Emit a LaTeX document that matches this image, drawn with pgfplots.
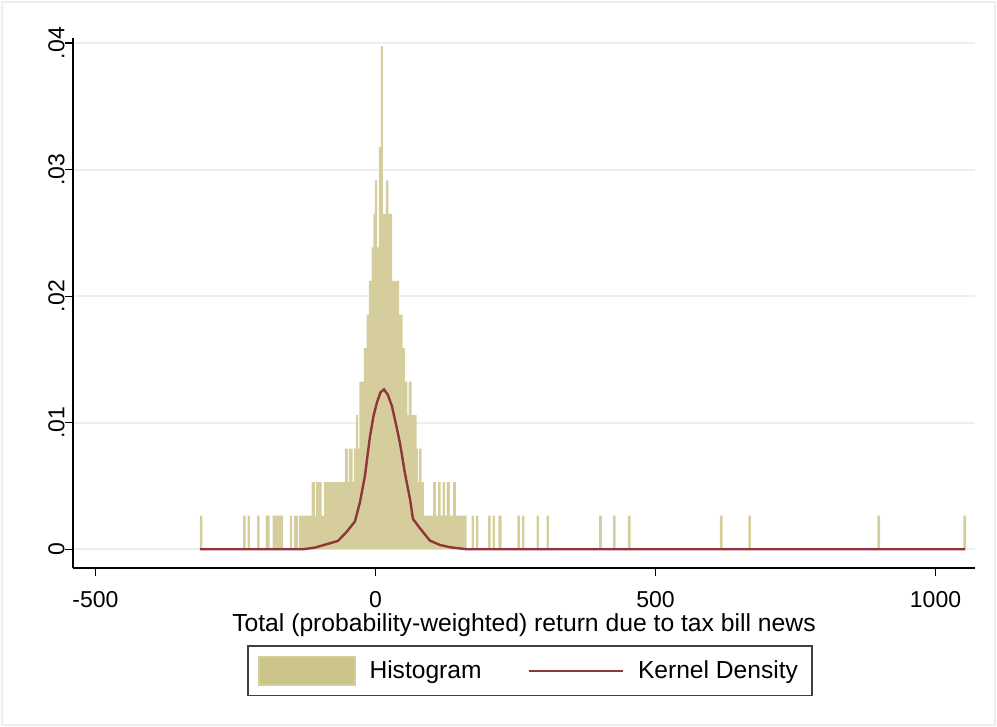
\documentclass[border=0pt]{standalone}
\usepackage{fontspec}
\setmainfont{Liberation Sans}
\usepackage{pgfplots}
\pgfplotsset{compat=1.18}
\definecolor{histfill}{RGB}{213,206,156}
\definecolor{histkey}{RGB}{203,196,136}
\definecolor{kdens}{RGB}{144,53,59}
\definecolor{gridc}{RGB}{232,240,242}
\begin{document}
\begin{tikzpicture}
\begin{axis}[
  name=ax, at={(0pt,0pt)}, anchor=south west,
  width=451pt, height=265pt, scale only axis,
  xmin=-540, xmax=1070.5, ymin=-0.00148, ymax=0.0404,
  scaled y ticks=false, scaled x ticks=false,
  axis x line*=bottom, axis y line*=left,
  axis line style={-, black, line width=0.6pt},
  tick align=outside, major tick length=4pt,
  tick style={black, line width=0.6pt},
  xtick={-500,0,500,1000}, xticklabels={-500,0,500,1000},
  ytick={0,0.01,0.02,0.03,0.04}, yticklabels={0,.01,.02,.03,.04},
  minor tick num=0,
  ymajorgrids, grid style={gridc, line width=1pt},
  tick label style={font=\fontsize{11.5}{13}\selectfont},
  xticklabel style={anchor=north, inner sep=0pt, yshift=-7.5pt},
  yticklabel style={rotate=90, anchor=south, inner sep=0pt, xshift=0pt},
  xlabel={Total (probability-weighted) return due to tax bill news},
  xlabel style={at={(axis description cs:0.5,0)}, anchor=north, inner sep=0pt, yshift=-22.8pt, font=\fontsize{12.35}{14}\selectfont},
  legend style={at={(axis description cs:0.5066,-0.1943)}, anchor=center,
    draw=black!75, line width=0.7pt, legend columns=2,
    font=\fontsize{12.3}{14}\selectfont, inner xsep=5pt, inner ysep=5pt,
    /tikz/every odd column/.append style={column sep=5pt},
    /tikz/every even column/.append style={column sep=21pt}},
  legend cell align=left,
]
\addplot[const plot mark left, fill=histfill, draw=none,
  legend image code/.code={\fill[histkey, draw=histfill, line width=0.8pt] (0pt,-7pt) rectangle (48pt,7pt);}]
coordinates {
(-313.4,0.00265) (-308.9,0)
(-236.1,0.00265) (-231.8,0)
(-228.2,0.00265) (-224.1,0)
(-211.1,0.00265) (-206.8,0)
(-196.1,0.00265) (-188.9,0)
(-183.6,0.00265) (-165.2,0)
(-152.7,0.00265) (-148.6,0)
(-145.5,0.00265) (-137.9,0)
(-136.1,0.00265)
(-113.9,0.0053) (-108,0.00265) (-105.7,0.0053) (-96.1,0.00265) (-91.4,0.0053)
(-54.5,0.00795) (-48.6,0.0053) (-46.8,0.00795) (-40.7,0.0053) (-37.9,0.00795)
(-34.8,0.0106) (-30.7,0.00795) (-28.9,0.01325) (-20.5,0.0159) (-15.7,0.01855)
(-11.6,0.0212) (-6.8,0.02385) (-3.9,0.0265) (-0.9,0.02915) (3.2,0.02385)
(6.25,0.0318) (9.8,0.03975) (13.4,0.0265) (18.75,0.02915) (22.9,0.0265)
(30,0.0212) (42.5,0.01855) (48.6,0.0159) (52.7,0.01325) (56.8,0.0106)
(59.3,0.01325) (64.6,0.0106) (73.6,0.00795) (76.4,0.0053) (78.2,0.00795)
(82.5,0.0053) (86.6,0.00265) (103.2,0.0053) (108,0.00265) (112.1,0.0053)
(116.4,0.00265) (120,0.0053) (124.1,0.00265) (127.1,0.0053) (133,0.00265)
(138.9,0.0053) (143.75,0.00265) (162.9,0)
(171.8,0.00265) (175.9,0)
(179.5,0.00265) (183.6,0)
(201.4,0.00265) (205.7,0)
(209.3,0.00265) (213.4,0)
(219.3,0.00265) (225.4,0)
(253.2,0.00265) (258,0)
(262.1,0.00265) (265.7,0)
(287.9,0.00265) (292,0)
(305.7,0.00265) (309.8,0)
(399.6,0.00265) (404.5,0)
(424.6,0.00265) (428.9,0)
(450.9,0.00265) (455.7,0)
(615.2,0.00265) (620,0)
(665.7,0.00265) (670.5,0)
(896,0.00265) (900.9,0)
(1049.6,0.00265) (1054.5,0)
} \closedcycle;
\addlegendentry{Histogram}
\addplot[kdens, line width=1.2pt,
  legend image code/.code={\draw[kdens, line width=1.2pt] (0pt,0pt) -- (47pt,0pt);}]
coordinates {
(-313.4,0) (-129.5,0) (-108,0.00013) (-67,0.00066) (-50.9,0.0014)
(-36.6,0.0022) (-27.7,0.0037) (-18.75,0.0058) (-9.8,0.0089) (-3.6,0.0105)
(2.7,0.0116) (9,0.0124) (15.2,0.01263) (22.3,0.0122) (29.5,0.0113)
(36.6,0.0099) (43.75,0.0084) (52.7,0.006) (61.6,0.004) (67,0.0024)
(79.5,0.00166) (97.3,0.00068) (115.2,0.00034) (133,0.00016) (163.4,0)
(1052.7,0)
};
\addlegendentry{Kernel Density}
\end{axis}
\pgfresetboundingbox
\useasboundingbox ([shift={(-36.5pt,-79.5pt)}]ax.south west) rectangle ([shift={(462pt,284pt)}]ax.south west);
\draw[gridc, line width=0.8pt] ([shift={(-35.5pt,-78.5pt)}]ax.south west) rectangle ([shift={(461pt,283pt)}]ax.south west);
\end{tikzpicture}
\end{document}
